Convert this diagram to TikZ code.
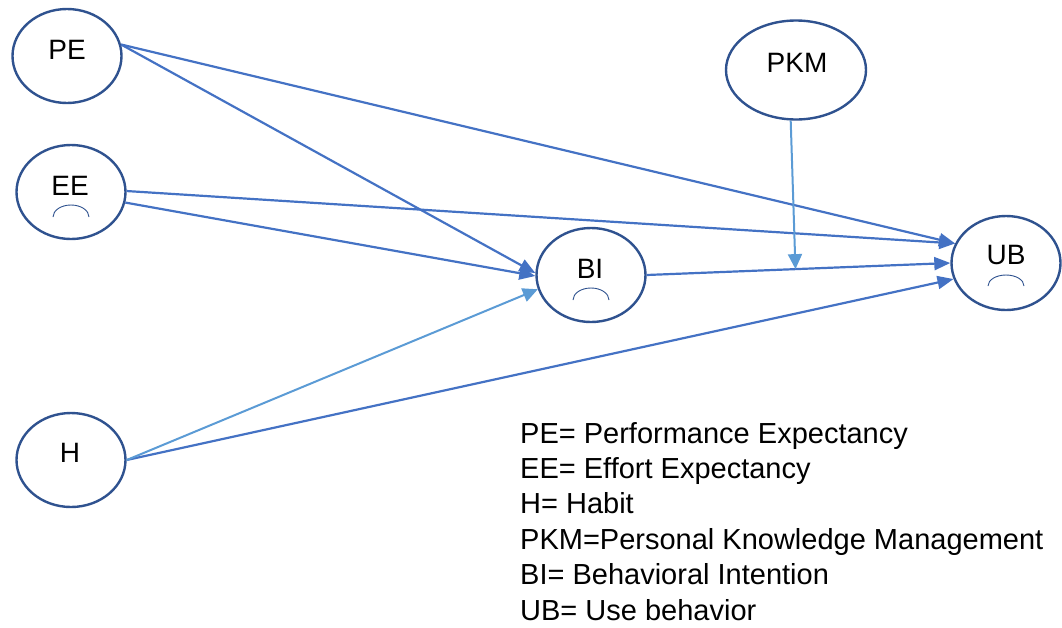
\documentclass[tikz,border=0pt]{standalone}
\usepackage{fontspec}
\setmainfont{Liberation Sans}
\usetikzlibrary{arrows.meta,shapes.geometric}
\definecolor{edgeblue}{HTML}{2F528F}
\definecolor{linkblue}{HTML}{4472C4}
\definecolor{lightblue}{HTML}{5B9BD5}
\begin{document}
\begin{tikzpicture}[x=1pt,y=-1pt,
  construct/.style={ellipse,draw=edgeblue,line width=2.4pt,fill=white,inner sep=0pt,minimum width=109pt,minimum height=94pt},
  lbl/.style={anchor=base,font=\fontsize{28}{33}\selectfont,inner sep=0pt},
  link/.style={draw=linkblue,line width=2.2pt,-{Triangle[length=16pt,width=13pt]}},
  lightlink/.style={draw=lightblue,line width=2pt,-{Triangle[length=15pt,width=14pt]}},
  legend/.style={anchor=base west,font=\fontsize{29}{35}\selectfont,inner sep=0pt},
  smallarc/.style={draw=edgeblue,line width=0.9pt}]
\useasboundingbox (0,0) rectangle (1062,627);

% constructs
\node[construct] (PE) at (67,56) {};
\node[construct] (EE) at (71,192) {};
\node[construct] (H) at (71,460) {};
\node[construct] (BI) at (591,275) {};
\node[construct] (UB) at (1006,263) {};
\node[construct,minimum width=140pt,minimum height=99pt] (PKM) at (796,70) {};

% labels
\node[lbl] (PEt) at (67,59) {PE};
\node[lbl] (EEt) at (70,195) {EE};
\node[lbl] (Ht) at (70,462) {H};
\node[lbl] (BIt) at (590,278) {BI};
\node[lbl] (UBt) at (1006,264) {UB};
\node[lbl] (PKMt) at (797,72) {PKM};

% small arcs
\draw[smallarc] (53,217) arc[start angle=180,end angle=360,x radius=18,y radius=12];
\draw[smallarc] (573,300) arc[start angle=180,end angle=360,x radius=18,y radius=12];
\draw[smallarc] (988,286) arc[start angle=180,end angle=360,x radius=18,y radius=11];

% connectors
\draw[link] (PE.12) -- (UB.159);
\draw[link] (PE.12) -- (BI.178);
\draw[link] (EE.1) -- (UB.159);
\draw[link] (EE.-11) -- (BI.181);
\draw[link] (BI.east) -- (UB.180);
\draw[link] (H.east) -- (UB.197);
\draw[lightlink] (H.east) -- (BI.195);
\path (BI.east) -- (UB.180) coordinate[pos=0.49] (pkmhit);
\draw[lightlink] (PKM.264) -- (pkmhit);

% legend
\node[legend] (L1) at (520,443) {PE= Performance Expectancy};
\node[legend] (L2) at (520,478.4) {EE= Effort Expectancy};
\node[legend] (L3) at (520,513.8) {H= Habit};
\node[legend] (L4) at (520,549.2) {PKM=Personal Knowledge Management};
\node[legend] (L5) at (520,584.6) {BI= Behavioral Intention};
\node[legend] (L6) at (520,620) {UB= Use behavior};
\end{tikzpicture}
\end{document}
